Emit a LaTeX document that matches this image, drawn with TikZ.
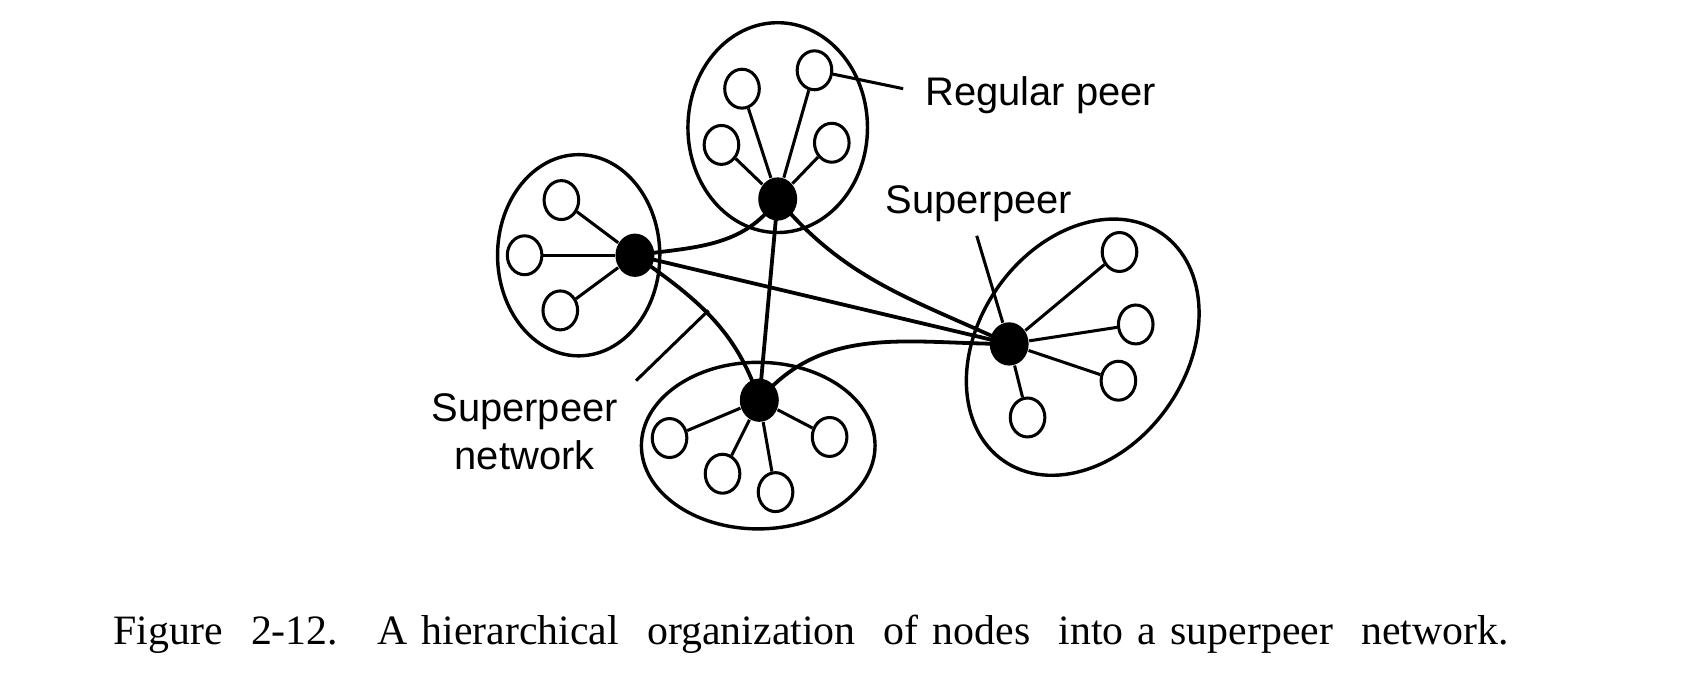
\documentclass[tikz,border=0pt]{standalone}
\usepackage{fontspec}
\setmainfont{Liberation Serif}
\setsansfont{Liberation Sans}
\usetikzlibrary{shapes.geometric}

\begin{document}
\begin{tikzpicture}[peer/.style={ellipse, draw=black, line width=0.8pt, minimum width=3.2mm, minimum height=3.6mm, inner sep=0pt},
	superpeer/.style={ellipse, fill=black, minimum width=3.6mm, minimum height=4mm, inner sep=0pt},
	cluster/.style={draw=black, line width=0.9pt},
	link/.style={line width=0.8pt},
	backbone/.style={line width=1pt},
	label/.style={font=\sffamily\fontsize{10.5}{12.5}\selectfont, align=center}]
	\useasboundingbox (0, 0) rectangle (15.68, 6.42);

	% the four groups
	\draw[cluster] (7.19, 5.24) ellipse [x radius=0.83, y radius=0.97];
	\draw[cluster] (5.35, 4.06) ellipse [x radius=0.75, y radius=0.93];
	\draw[cluster] (7.01, 2.30) ellipse [x radius=1.08, y radius=0.77];
	\draw[cluster] (10.01, 3.21) circle [x radius=1.28, y radius=0.96, rotate=55];

	\node[superpeer] (top) at (7.19, 4.58) {};
	\node[superpeer] (left) at (5.87, 4.06) {};
	\node[superpeer] (bottom) at (7.02, 2.72) {};
	\node[superpeer] (right) at (9.33, 3.24) {};

	\node[peer] (t1) at (6.86, 5.60) {};
	\node[peer] (t2) at (7.53, 5.77) {};
	\node[peer] (t3) at (6.67, 5.08) {};
	\node[peer] (t4) at (7.69, 5.10) {};

	\node[peer] (l1) at (5.19, 4.57) {};
	\node[peer] (l2) at (4.85, 4.06) {};
	\node[peer] (l3) at (5.18, 3.55) {};

	\node[peer] (b1) at (6.19, 2.37) {};
	\node[peer] (b2) at (6.68, 2.04) {};
	\node[peer] (b3) at (7.17, 1.87) {};
	\node[peer] (b4) at (7.67, 2.38) {};

	\node[peer] (r1) at (10.35, 4.09) {};
	\node[peer] (r2) at (10.50, 3.42) {};
	\node[peer] (r3) at (10.34, 2.90) {};
	\node[peer] (r4) at (9.50, 2.56) {};

	\foreach \p in {t1, t2, t3, t4} \draw[link] (top) -- (\p);
	\foreach \p in {l1, l2, l3} \draw[link] (left) -- (\p);
	\foreach \p in {b1, b2, b3, b4} \draw[link] (bottom) -- (\p);
	\foreach \p in {r1, r2, r3, r4} \draw[link] (right) -- (\p);

	% superpeer network
	\draw[backbone] (left.center) edge [out=8, in=235] (top.center);
	\draw[backbone] (top.center) -- (bottom.center);
	\draw[backbone] (top.center) edge [out=-50, in=155] (right.center);
	\draw[backbone] (left.center) -- (right.center);
	\draw[backbone] (left.center) edge [out=-35, in=108] (bottom.center);
	\draw[backbone] (bottom.center) edge [out=50, in=180] (right.center);

	% labels
	\node[label, anchor=west] (regular) at (8.43, 5.54) {Regular peer};
	\node[label] (super) at (9.05, 4.54) {Superpeer};
	\node[label] (network) at (4.85, 2.43) {Superpeer\\network};
	\coordinate (regular-end) at (8.35, 5.60);
	\coordinate (super-end) at (9.03, 4.24);
	\coordinate (network-a) at (5.88, 2.90);
	\coordinate (network-b) at (6.55, 3.55);
	\draw[link] (t2) -- (regular-end);
	\draw[link] (super-end) -- (right);
	\draw[link] (network-a) -- (network-b);

	\node[anchor=base, font=\fontsize{11}{13}\selectfont] (caption) at (7.50, 0.46)
		{\makebox[12.9cm][s]{Figure \ 2-12. \ A hierarchical \ organization \ of nodes \ into a superpeer \ network.}};
\end{tikzpicture}
\end{document}
